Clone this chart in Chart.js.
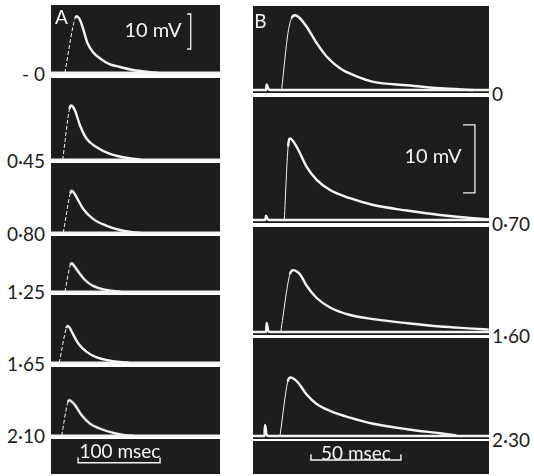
<!DOCTYPE html>
<html>
<head>
<meta charset="utf-8">
<script src="https://cdn.jsdelivr.net/npm/chart.js@4.4.1/dist/chart.umd.min.js"></script>
<style>
body { margin: 0; background: #fff; }
#fig { position: relative; width: 534px; height: 476px; font-family: Lato, "Open Sans", sans-serif; }
#fig canvas { position: absolute; }
.lbl { position: absolute; white-space: nowrap; line-height: 1; }
</style>
</head>
<body>
<div id="fig"></div>
<script>
// sweep labels (left of A, right of B)
var sweepsA = ['- 0', '0·45', '0·80', '1·25', '1·65', '2·10'];
var sweepsB = ['0', '0·70', '1·60', '2·30'];

// traces: [msec, mV above baseline]
var traceA0 = [[17,0],[27,13.5],[29.5,15.6],[31.3,16.2],[33.5,15.8],[35.4,15.1],[39.4,12.4],[44.3,8.6],[51.6,5.8],[59.8,4.1],[72,2.4],[80,1.9],[100,0.8],[121,0.2],[130,0]];
var traceA1 = [[14.3,0],[22.5,14.5],[24.4,15.5],[26.5,15.2],[29.3,14.1],[35.4,9.8],[43.5,6.0],[55.7,3.6],[72,1.7],[87.8,0.74],[100,0.3],[110,0]];
var traceA2 = [[15,0],[23.5,11.2],[25.2,12],[27.5,11.6],[31.3,10.1],[39.4,6.8],[51.6,3.9],[67.9,2.0],[84,0.8],[100,0.2],[108,0]];
var traceA3 = [[17,0],[23.5,7.5],[25.2,8.1],[27.3,7.6],[33.3,5.7],[41.5,3.3],[51.6,1.6],[63.8,0.66],[75.6,0.2],[85,0]];
var traceA4 = [[10.1,0],[18.7,9.9],[20.4,10.5],[22.5,10.1],[25.2,8.9],[33.3,5.5],[43.5,3.1],[55.7,1.5],[72,0.6],[84,0.2],[95,0]];
var traceA5 = [[13,0],[20.5,9.5],[22.3,10.1],[24.5,9.8],[29.3,8.7],[37.4,5.8],[47.6,3.4],[59.8,2.0],[76,0.8],[92.3,0.1],[100,0]];

var traceB0 = [[15.9,0],[19.5,8.5],[21.5,10.6],[23.3,11.0],[25.5,10.7],[29.8,9.3],[35.4,6.9],[41,4.9],[48.3,3.2],[57.6,2.0],[66.8,1.2],[85.4,0.7],[103.9,0.25],[122.4,0]];
var traceB1 = [[17.4,0],[19.5,10.8],[20.6,12.0],[22.5,11.5],[25.2,10.3],[29.8,7.8],[35.4,5.9],[42.8,4.4],[53.9,3.2],[66.8,2.2],[85.4,1.4],[103.9,0.74],[122.4,0.25],[131,0.1]];
var traceB2 = [[15.4,0],[20.5,8.5],[22.4,9.1],[24.3,8.9],[26.1,8.5],[29.8,6.8],[35.4,5.0],[42.8,3.6],[53.9,2.5],[66.8,1.9],[85.4,1.3],[103.9,0.8],[122.4,0.5],[131,0.35]];
var traceB3 = [[15,0],[19.3,8.0],[20.9,8.6],[22.8,8.4],[25.2,7.8],[29.8,6.1],[35.4,4.7],[42.8,3.7],[53.9,2.7],[66.8,1.8],[85.4,1.0],[103.9,0.4],[113,0.1]];

// stimulus artefact in B: time (msec) and height (mV)
var artefactTimeB = [7.6, 7.2, 7.6, 6.7];
var artefactSizeB = [0.8, 0.6, 1.3, 1.6];

// calibration
var calMv = 10;
var calMsA = 100;
var calMsB = 50;

var tracesA = [traceA0, traceA1, traceA2, traceA3, traceA4, traceA5];
var tracesB = [traceB0, traceB1, traceB2, traceB3];

// layout (pixels): top, bottom, baseline of each strip
var stripsA = [[5,74,72.8],[78,161,159.8],[163,234,232.8],[236,292.5,291.2],[295,364,362.7],[367,436.5,435.2]];
var stripsB = [[6,93,90],[97,223,220],[227,335,332],[338,439,436]];
var panelA = {left: 51, width: 169, pxMs: 0.82, pxMv: 3.5};
var panelB = {left: 253, width: 236, pxMs: 1.8, pxMv: 6.8};

var DARK = '#1d1d1d';
var WHITE = '#f4f4f4';
var INK = '#1c1c1c';
var fig = document.getElementById('fig');

var darkBg = {
    id: 'darkBg',
    beforeDraw: function(chart) {
        var a = chart.chartArea, ctx = chart.ctx;
        ctx.save();
        ctx.fillStyle = DARK;
        ctx.fillRect(a.left, a.top, a.right - a.left, a.bottom - a.top);
        ctx.restore();
    }
};

function pts(arr) {
    return arr.map(function(p) { return {x: p[0], y: p[1]}; });
}

function traceSet(arr, dashed) {
    return {
        data: pts(arr),
        borderColor: WHITE,
        borderWidth: 2.4,
        cubicInterpolationMode: 'monotone',
        segment: {
            // fast rising phase is faint on the film
            borderWidth: function(ctx) { return ctx.p1.parsed.y - ctx.p0.parsed.y > 2 ? 1 : undefined; },
            borderDash: function(ctx) { return dashed && ctx.p1.parsed.y - ctx.p0.parsed.y > 2 ? [4, 2] : undefined; }
        }
    };
}

function lineSet(arr, w) {
    return {data: pts(arr), borderColor: WHITE, borderWidth: w, tension: 0};
}

function makeStrip(x, top, w, h, xMax, yMin, yMax, datasets) {
    var c = document.createElement('canvas');
    c.width = w; c.height = h;
    c.style.left = x + 'px'; c.style.top = top + 'px';
    c.style.width = w + 'px'; c.style.height = h + 'px';
    fig.appendChild(c);
    return new Chart(c, {
        type: 'line',
        data: {datasets: datasets},
        options: {
            responsive: false,
            animation: false,
            events: [],
            layout: {padding: 0},
            plugins: {legend: {display: false}, tooltip: {enabled: false}},
            scales: {
                x: {type: 'linear', min: 0, max: xMax, display: false},
                y: {type: 'linear', min: yMin, max: yMax, display: false}
            },
            elements: {point: {radius: 0}}
        },
        plugins: [darkBg]
    });
}

function label(text, x, y, align, color, size) {
    var d = document.createElement('div');
    d.className = 'lbl';
    d.textContent = text;
    d.style.color = color;
    d.style.fontSize = size + 'px';
    d.style.top = y + 'px';
    if (align == 'right') {
        d.style.right = (534 - x) + 'px';
        d.style.transform = 'translateY(-50%)';
    } else if (align == 'left') {
        d.style.left = x + 'px';
        d.style.transform = 'translateY(-50%)';
    } else {
        d.style.left = x + 'px';
        d.style.transform = 'translate(-50%,-50%)';
    }
    fig.appendChild(d);
}

// panel A
var xMaxA = panelA.width / panelA.pxMs;
for (var i = 0; i < tracesA.length; i++) {
    var s = stripsA[i];
    var sets = [lineSet([[0,0],[xMaxA,0]], 2.6), traceSet(tracesA[i], true)];
    if (i == 0) {
        sets.push(lineSet([[166,6.8+calMv],[170.4,6.8+calMv],[170.4,6.8],[166,6.8]], 1.3));
    }
    makeStrip(panelA.left, s[0], panelA.width, s[1] - s[0], xMaxA,
        -(s[1] - s[2]) / panelA.pxMv, (s[2] - s[0]) / panelA.pxMv, sets);
    label(sweepsA[i], 45, s[2], 'right', INK, 19);
}
makeStrip(panelA.left, 439, panelA.width, 35, xMaxA, 0, 35 / panelA.pxMv,
    [lineSet([[33,4.7],[33,3.2],[33+calMsA,3.2],[33+calMsA,4.7]], 1.4)]);

// panel B
var xMaxB = panelB.width / panelB.pxMs;
for (var j = 0; j < tracesB.length; j++) {
    var sb = stripsB[j];
    var t = artefactTimeB[j], hgt = artefactSizeB[j];
    var base = [[0,0],[t-0.3,0],[t,hgt],[t+0.8,0.2],[t+2,0],[xMaxB,0]];
    var setsB = [{data: pts(base), borderColor: WHITE, borderWidth: 2.6, cubicInterpolationMode: 'monotone'},
        traceSet(tracesB[j], false)];
    if (j == 1) {
        setsB.push(lineSet([[116.7,4+calMv],[123.3,4+calMv],[123.3,4],[116.7,4]], 1.3));
    }
    makeStrip(panelB.left, sb[0], panelB.width, sb[1] - sb[0], xMaxB,
        -(sb[1] - sb[2]) / panelB.pxMv, (sb[2] - sb[0]) / panelB.pxMv, setsB);
    label(sweepsB[j], 492, sb[2] + 3, 'left', INK, 19);
}
makeStrip(panelB.left, 441, panelB.width, 33, xMaxB, 0, 33 / panelB.pxMv,
    [lineSet([[32.2,2.9],[32.2,2.06],[32.2+calMsB,2.06],[32.2+calMsB,2.9]], 1.4)]);

// in-panel text
label('A', 61.5, 16, 'center', WHITE, 19);
label('10 mV', 153, 29, 'center', WHITE, 20);
label('100 msec', 120, 450, 'center', WHITE, 19);
label('B', 260.5, 20, 'center', WHITE, 19);
label('10 mV', 433, 155, 'center', WHITE, 20);
label('50 msec', 356, 452, 'center', WHITE, 19);
</script>
</body>
</html>
